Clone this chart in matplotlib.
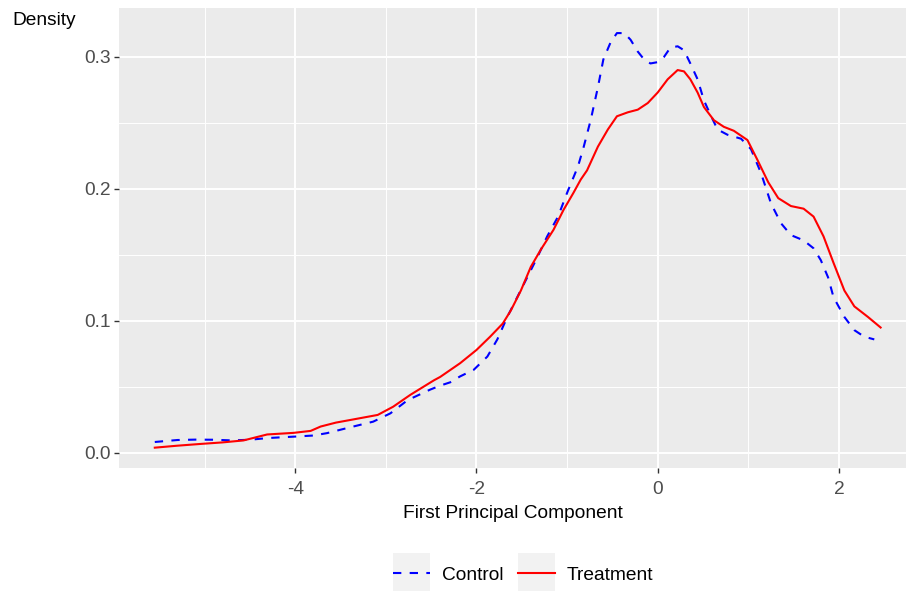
"""
Density of the first principal component, control vs treatment (ggplot look).
"""

import matplotlib
matplotlib.use("Agg")
import matplotlib.pyplot as plt
from matplotlib.legend_handler import HandlerLine2D
from matplotlib.patches import Rectangle
from matplotlib.ticker import MultipleLocator

plt.rcParams['font.family'] = ['Liberation Sans', 'DejaVu Sans']

# Values
control_x = [-5.55, -5.3, -5.1, -4.9, -4.7, -4.5, -4.3, -4.0, -3.8, -3.65,
             -3.39, -3.14, -2.95, -2.76, -2.51, -2.4, -2.29, -2.18, -2.03, -1.88,
             -1.77, -1.66, -1.55, -1.44, -1.33, -1.22, -1.1, -1.0, -0.88, -0.82,
             -0.74, -0.66, -0.6, -0.52, -0.45, -0.37, -0.3, -0.22, -0.15, -0.08,
             0.0, 0.07, 0.14, 0.22, 0.29, 0.36, 0.44, 0.51, 0.59, 0.66,
             0.77, 0.92, 1.03, 1.14, 1.25, 1.36, 1.47, 1.61, 1.72, 1.8,
             1.88, 1.94, 2.06, 2.17, 2.28, 2.39]
control_y = [0.0083, 0.0098, 0.0101, 0.0100, 0.0095, 0.0100, 0.0113, 0.0124, 0.0132, 0.0150,
             0.0195, 0.0237, 0.0300, 0.0400, 0.0480, 0.0510, 0.0535, 0.0580, 0.0630, 0.0730,
             0.0860, 0.1030, 0.1180, 0.1330, 0.1480, 0.1640, 0.1790, 0.1970, 0.2170, 0.2310,
             0.2520, 0.2770, 0.2980, 0.3110, 0.3180, 0.3180, 0.3130, 0.3040, 0.2980, 0.2950,
             0.2960, 0.3000, 0.3070, 0.3080, 0.3050, 0.2950, 0.2830, 0.2670, 0.2550, 0.2450,
             0.2410, 0.2380, 0.2300, 0.2120, 0.1890, 0.1740, 0.1650, 0.1610, 0.1550, 0.1460,
             0.1330, 0.1180, 0.1030, 0.0930, 0.0880, 0.0860]

treatment_x = [-5.55, -5.3, -5.05, -4.8, -4.57, -4.31, -4.02, -3.83, -3.72, -3.55,
               -3.39, -3.09, -2.92, -2.73, -2.47, -2.4, -2.18, -2.0, -1.85, -1.71,
               -1.62, -1.51, -1.4, -1.29, -1.15, -1.04, -0.93, -0.85, -0.78, -0.66,
               -0.55, -0.45, -0.33, -0.22, -0.11, 0.0, 0.11, 0.22, 0.29, 0.36,
               0.44, 0.51, 0.62, 0.73, 0.84, 0.99, 1.1, 1.22, 1.33, 1.47,
               1.61, 1.72, 1.83, 1.94, 2.06, 2.17, 2.32, 2.46]
treatment_y = [0.0040, 0.0055, 0.0068, 0.0080, 0.0095, 0.0140, 0.0152, 0.0167, 0.0200, 0.0230,
               0.0250, 0.0288, 0.0350, 0.0440, 0.0550, 0.0576, 0.0680, 0.0780, 0.0880, 0.0980,
               0.1080, 0.1230, 0.1410, 0.1540, 0.1690, 0.1840, 0.1970, 0.2070, 0.2140, 0.2320,
               0.2450, 0.2550, 0.2580, 0.2600, 0.2650, 0.2730, 0.2830, 0.2900, 0.2890, 0.2830,
               0.2730, 0.2620, 0.2520, 0.2470, 0.2440, 0.2370, 0.2220, 0.2050, 0.1930, 0.1870,
               0.1850, 0.1790, 0.1640, 0.1440, 0.1230, 0.1110, 0.1030, 0.0950]

x_ticks = [-4, -2, 0, 2]
y_ticks = [0.0, 0.1, 0.2, 0.3]

FS = 13.8


class HandlerKey(HandlerLine2D):
    # ggplot style legend key: grey box behind the line
    def create_artists(self, legend, orig_handle, xdescent, ydescent,
                       width, height, fontsize, trans):
        box_h = 2.05 * fontsize
        yc = (height - ydescent) / 2
        box = Rectangle((-xdescent, yc - box_h / 2), width, box_h,
                        facecolor='#F2F2F2', edgecolor='none', transform=trans)
        lines = super().create_artists(legend, orig_handle, xdescent, ydescent,
                                       width, height, fontsize, trans)
        return [box] + lines


W, H = 906, 591
fig = plt.figure(figsize=(W / 100, H / 100), dpi=100)
ax = fig.add_axes([119 / W, 1 - 468 / H, 1 - 119 / W, (468 - 8) / H])

ax.set_facecolor('#EBEBEB')
for s in ax.spines.values():
    s.set_visible(False)

ax.plot(control_x, control_y, color='blue', lw=1.5, linestyle=(0, (4, 4)),
        label='Control')
ax.plot(treatment_x, treatment_y, color='red', lw=1.5, label='Treatment')

ax.set_xlim(-5.945, 2.74)
ax.set_ylim(-0.0114, 0.337)
ax.set_xticks(x_ticks)
ax.set_xticklabels([str(v) for v in x_ticks])
ax.set_yticks(y_ticks)
ax.set_yticklabels(['%.1f' % v for v in y_ticks])
ax.xaxis.set_minor_locator(MultipleLocator(1))
ax.yaxis.set_minor_locator(MultipleLocator(0.05))

ax.grid(which='major', color='white', lw=1.4)
ax.grid(which='minor', color='white', lw=0.7)
ax.set_axisbelow(True)
ax.tick_params(which='major', length=3.5, width=1.0, color='#333333',
               labelsize=FS, labelcolor='#4D4D4D', pad=2.5)
ax.tick_params(axis='x', which='major', pad=6)
ax.tick_params(which='minor', length=0)

ax.set_xlabel('First Principal Component', fontsize=FS, labelpad=5)
fig.text(12 / W, 1 - 25 / H, 'Density', fontsize=FS, va='baseline', ha='left')

handles, labels = ax.get_legend_handles_labels()
fig.legend(handles, labels, loc='center', bbox_to_anchor=(523 / W, 1 - 575 / H),
           ncol=2, frameon=False, fontsize=FS, handlelength=1.93,
           handletextpad=0.6, columnspacing=0.75,
           borderpad=0, borderaxespad=0,
           handler_map={h: HandlerKey() for h in handles})

fig.savefig('out.png', dpi=100)
